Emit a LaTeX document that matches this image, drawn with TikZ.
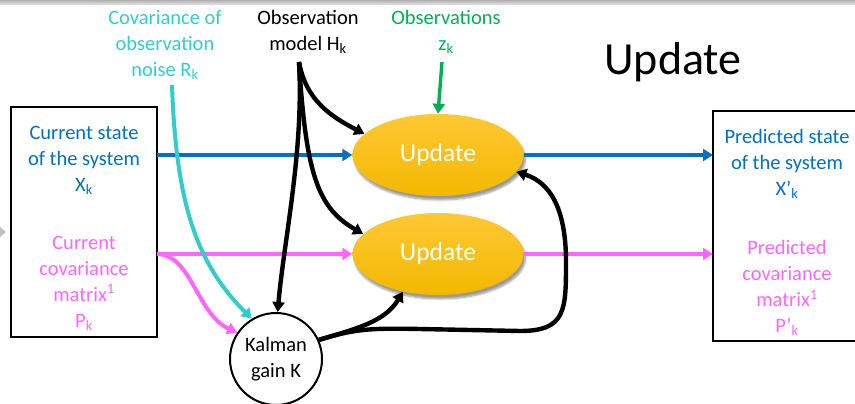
\documentclass[tikz,border=0pt]{standalone}
\usepackage{fontspec}
\setmainfont{Carlito}
\usetikzlibrary{arrows.meta,shadows.blur,shapes.geometric}
\definecolor{cblue}{HTML}{0070C0}
\definecolor{cpink}{HTML}{FF66FF}
\definecolor{ccyan}{HTML}{33CCCC}
\definecolor{cgreen}{HTML}{00B050}
\definecolor{goldtop}{HTML}{FFC835}
\definecolor{goldbot}{HTML}{F2B800}
\tikzset{
  txt/.style={align=center, font=\fontsize{20.5}{26}\selectfont, inner sep=0pt},
  upd/.style={ellipse, minimum width=171pt, minimum height=82pt, inner sep=0pt,
    top color=goldtop, bottom color=goldbot, draw=none, text=white,
    font=\fontsize{25.5}{30}\selectfont,
    blur shadow={shadow xshift=2pt, shadow yshift=-4pt, shadow blur steps=6, shadow opacity=40}},
  boxx/.style={draw=black, line width=2.2pt},
  arr/.style={line width=4.4pt, -{Triangle[length=10pt,width=12pt]}},
}
\begin{document}
\begin{tikzpicture}[x=1pt,y=-1pt]
\useasboundingbox (0,0) rectangle (855,404);
\clip (0,0) rectangle (855,404);
% slide edge
\shade[top color=gray!60, bottom color=gray!20] (0,0) rectangle (855,5);
\fill[gray!50] (0,227) -- (6,232) -- (0,237) -- cycle;
% boxes
\draw[boxx] (11,107) rectangle (157,337);
\draw[boxx] (713,111) rectangle (870,341);
\coordinate (lbe) at (157,222);
\coordinate (rbw) at (713,222);
% texts
\node[txt, text=cblue] (xk) at (84,160) {Current state\\of the system\\X\textsubscript{k}};
\node[txt, text=cpink] (pk) at (84,283) {Current\\covariance\\matrix\textsuperscript{1}\\P\textsubscript{k}};
\node[txt, text=cblue] (xpk) at (787,164) {Predicted state\\of the system\\X’\textsubscript{k}};
\node[txt, text=cpink] (ppk) at (787,288) {Predicted\\covariance\\matrix\textsuperscript{1}\\P’\textsubscript{k}};
\node[txt, text=ccyan] (rk) at (165,45) {Covariance of\\observation\\noise R\textsubscript{k}};
\node[txt] (hk) at (308,32) {Observation\\model H\textsubscript{k}};
\node[txt, text=cgreen] (zk) at (446,32) {Observations\\z\textsubscript{k}};
\node[inner sep=0pt, font=\fontsize{46}{50}\selectfont] (title) at (673,62) {Update};
% update ellipses
\node[upd] (u1) at (438,155) {Update};
\node[upd] (u2) at (438,254) {Update};
% Kalman gain
\node[circle, draw, line width=2pt, minimum size=92pt, inner sep=0pt, fill=white,
      font=\fontsize{20.5}{26}\selectfont, align=center] (K) at (276,359) {Kalman\\gain K};
% start coordinates
\coordinate (hs) at (299,62);
\coordinate (rs) at (172,85);
\coordinate (zs) at (442,62);
% blue
\draw[arr, cblue, line width=3.4pt] (lbe |- u1.west) -- (u1.west);
\draw[arr, cblue, line width=3.4pt] (u1.east) -- (rbw |- u1.east);
% pink
\draw[arr, cpink, line width=4pt] (lbe |- u2.west) -- (u2.west);
\draw[arr, cpink, line width=4pt] (u2.east) -- (rbw |- u2.east);
\draw[arr, cpink, line width=4pt] (lbe |- u2.west) .. controls (192,255) and (196,313) .. (K.146);
% cyan
\draw[arr, ccyan, line width=4pt] (rs) .. controls (176,200) and (195,262) .. (K.121);
% green
\draw[arr, cgreen, line width=3.4pt] (zs) -- (u1.north);
% black from H
\draw[arr] (hs) .. controls (306,100) and (330,116) .. (u1.164);
\draw[arr] (hs) .. controls (306,175) and (318,208) .. (u2.165);
\draw[arr] (hs) .. controls (304,150) and (284,240) .. (K.88);
% black from K
\draw[arr] (K.24) .. controls (355,329) and (385,322) .. (u2.-133);
\draw[arr] (K.24) .. controls (355,329) and (368,328) .. (420,329)
   -- (520,331) .. controls (566,331) and (566,310) .. (566,262)
   .. controls (566,205) and (548,182) .. (u1.-12);
\end{tikzpicture}
\end{document}
